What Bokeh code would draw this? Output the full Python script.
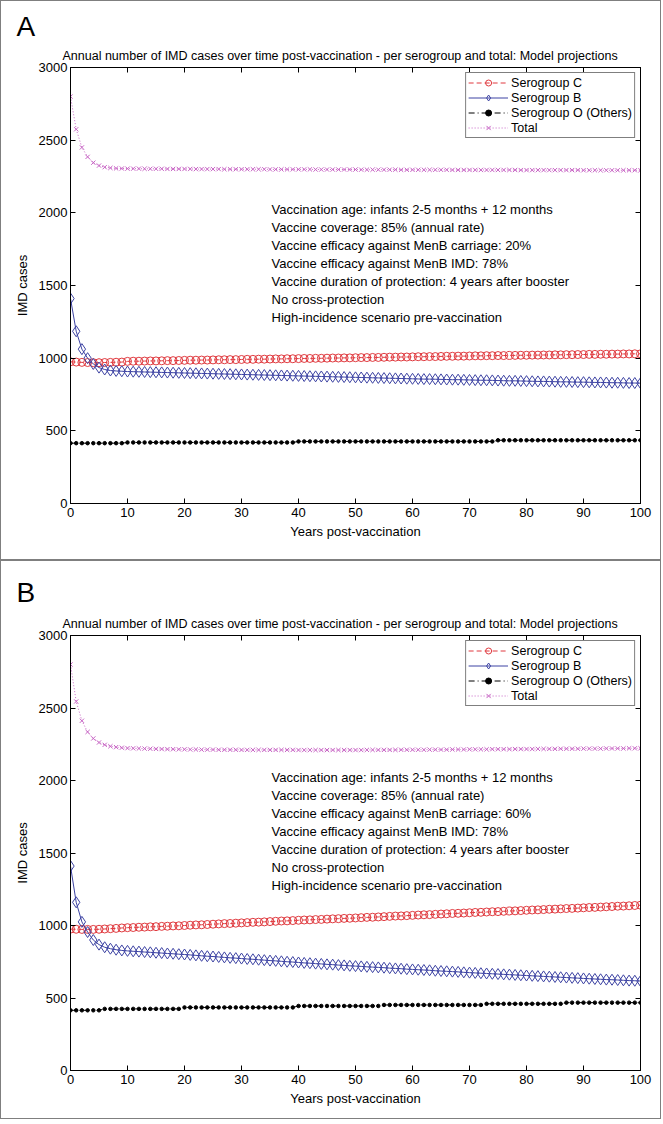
from bokeh.plotting import figure
from bokeh.models import Range1d, FixedTicker, LinearAxis, Legend, LegendItem, Label, Title
from bokeh.layouts import column
from bokeh.embed import file_html
from bokeh.resources import INLINE

years = list(range(0, 101))
x_ticks = [0, 10, 20, 30, 40, 50, 60, 70, 80, 90, 100]
y_ticks = [0, 500, 1000, 1500, 2000, 2500, 3000]

title_text = "Annual number of IMD cases over time post-vaccination - per serogroup and total: Model projections"
legend_labels = ["Serogroup C", "Serogroup B", "Serogroup O (Others)", "Total"]

# ---------------- Panel A ----------------
a_sero_c = [975, 973, 971, 970, 969, 969, 970, 971, 972, 973,
            978, 979, 979, 980, 981, 981, 982, 983, 983, 984,
            985, 986, 986, 987, 987, 988, 989, 989, 990, 990,
            991, 992, 992, 993, 993, 994, 995, 995, 996, 996,
            997, 998, 998, 999, 999, 1000, 1001, 1001, 1002, 1002,
            1003, 1004, 1004, 1005, 1005, 1006, 1007, 1007, 1008, 1008,
            1009, 1010, 1010, 1011, 1011, 1012, 1013, 1013, 1014, 1014,
            1015, 1016, 1016, 1017, 1017, 1018, 1018, 1019, 1019, 1020,
            1020, 1021, 1021, 1022, 1022, 1023, 1023, 1024, 1024, 1025,
            1025, 1026, 1026, 1027, 1027, 1028, 1028, 1029, 1029, 1030,
            1030]
a_sero_b = [1410, 1185, 1062, 1000, 960, 935, 922, 915, 912, 910,
            908, 907, 906, 905, 904, 903, 902, 901, 900, 899,
            898, 897, 896, 895, 894, 893, 892, 891, 890, 889,
            888, 887, 886, 885, 884, 883, 882, 881, 880, 879,
            878, 877, 876, 875, 874, 873, 872, 871, 870, 869,
            868, 867, 866, 865, 864, 863, 862, 861, 860, 859,
            858, 857, 856, 856, 855, 854, 853, 852, 852, 851,
            850, 849, 848, 848, 847, 846, 845, 844, 844, 843,
            842, 841, 840, 840, 839, 838, 837, 837, 836, 835,
            835, 834, 833, 833, 832, 831, 831, 830, 829, 829,
            828]
a_sero_o = [415, 415, 415, 415, 415, 415, 415, 415, 415, 415,
            420, 420, 420, 420, 420, 420, 420, 420, 420, 420,
            420, 420, 420, 420, 420, 420, 420, 420, 420, 420,
            420, 420, 420, 420, 420, 420, 420, 420, 420, 420,
            427, 427, 427, 427, 427, 427, 427, 427, 427, 427,
            427, 427, 427, 427, 427, 427, 427, 427, 427, 427,
            427, 427, 427, 427, 427, 427, 427, 427, 427, 427,
            427, 427, 427, 427, 427, 435, 435, 435, 435, 435,
            435, 435, 435, 435, 435, 435, 435, 435, 435, 435,
            435, 435, 435, 435, 435, 435, 435, 435, 435, 435,
            435]
a_total = [2800, 2575, 2450, 2385, 2345, 2325, 2314, 2309, 2306, 2305,
           2304, 2304, 2304, 2303, 2303, 2303, 2303, 2302, 2302, 2302,
           2302, 2302, 2301, 2301, 2301, 2301, 2301, 2300, 2300, 2300,
           2300, 2300, 2300, 2300, 2300, 2299, 2299, 2299, 2299, 2299,
           2299, 2299, 2299, 2298, 2298, 2298, 2298, 2298, 2298, 2298,
           2298, 2297, 2297, 2297, 2297, 2297, 2297, 2297, 2296, 2296,
           2296, 2296, 2296, 2296, 2296, 2296, 2296, 2295, 2295, 2295,
           2295, 2295, 2295, 2295, 2295, 2295, 2295, 2295, 2295, 2294,
           2294, 2294, 2294, 2294, 2294, 2294, 2294, 2294, 2294, 2294,
           2293, 2293, 2293, 2293, 2293, 2293, 2293, 2293, 2293, 2293,
           2293]
a_notes = ["Vaccination age: infants 2-5 months + 12 months",
           "Vaccine coverage: 85% (annual rate)",
           "Vaccine efficacy against MenB carriage: 20%",
           "Vaccine efficacy against MenB IMD: 78%",
           "Vaccine duration of protection: 4 years after booster",
           "No cross-protection",
           "High-incidence scenario pre-vaccination"]

# ---------------- Panel B ----------------
b_sero_c = [975, 974, 973, 973, 973, 974, 976, 978, 980, 983,
            985, 986, 988, 989, 991, 992, 994, 995, 997, 998,
            1000, 1002, 1004, 1005, 1007, 1009, 1011, 1013, 1014, 1016,
            1018, 1020, 1022, 1023, 1025, 1027, 1029, 1031, 1032, 1034,
            1036, 1038, 1039, 1041, 1042, 1044, 1046, 1047, 1049, 1050,
            1052, 1054, 1056, 1057, 1059, 1061, 1063, 1065, 1066, 1068,
            1070, 1072, 1074, 1075, 1077, 1079, 1081, 1083, 1084, 1086,
            1088, 1090, 1091, 1093, 1095, 1096, 1098, 1100, 1101, 1103,
            1105, 1107, 1108, 1110, 1112, 1113, 1115, 1117, 1118, 1120,
            1122, 1124, 1125, 1127, 1129, 1131, 1133, 1134, 1136, 1138,
            1140]
b_sero_b = [1410, 1160, 1025, 955, 900, 868, 850, 840, 833, 828,
            825, 822, 820, 817, 815, 812, 810, 807, 805, 802,
            800, 797, 794, 791, 788, 786, 783, 780, 777, 775,
            772, 769, 767, 764, 761, 758, 756, 753, 750, 748,
            745, 742, 740, 737, 735, 732, 730, 727, 725, 722,
            720, 718, 715, 713, 711, 709, 706, 704, 702, 699,
            697, 695, 693, 691, 688, 686, 684, 682, 680, 677,
            675, 673, 671, 669, 667, 665, 663, 661, 659, 657,
            655, 653, 651, 649, 647, 645, 643, 641, 639, 637,
            635, 633, 631, 629, 627, 626, 624, 622, 620, 619,
            617]
b_sero_o = [415, 415, 415, 415, 415, 415, 425, 425, 425, 425,
            425, 425, 425, 425, 425, 425, 425, 425, 425, 425,
            435, 435, 435, 435, 435, 435, 435, 435, 435, 435,
            435, 435, 435, 435, 435, 435, 435, 435, 435, 435,
            445, 445, 445, 445, 445, 445, 445, 445, 445, 445,
            445, 445, 445, 445, 445, 452, 452, 452, 452, 452,
            452, 452, 452, 452, 452, 452, 452, 452, 452, 452,
            452, 452, 452, 460, 460, 460, 460, 460, 460, 460,
            460, 460, 460, 460, 460, 460, 460, 468, 468, 468,
            468, 468, 468, 468, 468, 468, 468, 468, 468, 468,
            468]
b_total = [2800, 2545, 2412, 2335, 2290, 2262, 2246, 2236, 2230, 2226,
           2223, 2222, 2221, 2220, 2219, 2218, 2217, 2216, 2216, 2215,
           2215, 2214, 2214, 2213, 2213, 2213, 2212, 2212, 2212, 2212,
           2211, 2211, 2211, 2211, 2211, 2211, 2211, 2211, 2211, 2211,
           2210, 2210, 2210, 2210, 2210, 2210, 2210, 2210, 2210, 2210,
           2210, 2210, 2211, 2211, 2211, 2211, 2211, 2211, 2212, 2212,
           2212, 2212, 2212, 2213, 2213, 2213, 2213, 2214, 2214, 2214,
           2215, 2215, 2215, 2215, 2216, 2216, 2216, 2216, 2217, 2217,
           2217, 2217, 2218, 2218, 2218, 2218, 2219, 2219, 2219, 2219,
           2220, 2220, 2220, 2220, 2221, 2221, 2221, 2221, 2222, 2222,
           2222]
b_notes = ["Vaccination age: infants 2-5 months + 12 months",
           "Vaccine coverage: 85% (annual rate)",
           "Vaccine efficacy against MenB carriage: 60%",
           "Vaccine efficacy against MenB IMD: 78%",
           "Vaccine duration of protection: 4 years after booster",
           "No cross-protection",
           "High-incidence scenario pre-vaccination"]

RED = "#e0393e"
BLUE = "#3d43a3"
BLACK = "#000000"
MAGENTA = "#c764c4"
FONT = "Liberation Sans"

W = 661
LEFT = 69
PLOT_W = 570


def make_panel(letter, c, b, o, t, notes, height, top, bottom, letter_standoff):
    plot_h = height - top - bottom
    p = figure(width=W, height=height, min_border_left=LEFT, min_border_right=W - LEFT - PLOT_W,
               min_border_top=top, min_border_bottom=bottom,
               x_range=Range1d(0, 100), y_range=Range1d(0, 3000),
               output_backend="svg", toolbar_location=None)
    p.xgrid.visible = False
    p.ygrid.visible = False
    p.outline_line_color = "black"
    p.background_fill_color = "white"
    p.border_fill_color = "white"
    p.styles = {"border": "1px solid #7f7f7f"}

    for ax in [p.xaxis[0], p.yaxis[0]]:
        ax.major_tick_in = 5
        ax.major_tick_out = 0
        ax.minor_tick_in = 0
        ax.minor_tick_out = 0
        ax.minor_tick_line_color = None
        ax.axis_line_color = "black"
        ax.major_tick_line_color = "black"
        ax.major_label_text_font = FONT
        ax.major_label_text_font_size = "13px"
        ax.major_label_text_color = "black"
        ax.axis_label_text_font = FONT
        ax.axis_label_text_font_size = "13px"
        ax.axis_label_text_font_style = "normal"
        ax.axis_label_text_color = "black"
    p.xaxis[0].ticker = FixedTicker(ticks=x_ticks)
    p.yaxis[0].ticker = FixedTicker(ticks=y_ticks)
    p.xaxis[0].axis_label = "Years post-vaccination"
    p.yaxis[0].axis_label = "IMD cases"
    p.xaxis[0].major_label_standoff = 4
    p.xaxis[0].axis_label_standoff = 4
    p.yaxis[0].major_label_standoff = 3
    p.yaxis[0].axis_label_standoff = 6

    top_ax = LinearAxis(ticker=FixedTicker(ticks=x_ticks), major_tick_in=5, major_tick_out=0,
                        minor_tick_in=0, minor_tick_out=0, minor_tick_line_color=None,
                        major_label_text_color=None, major_label_text_font_size="1px",
                        major_label_standoff=0)
    right_ax = LinearAxis(ticker=FixedTicker(ticks=y_ticks), major_tick_in=5, major_tick_out=0,
                          minor_tick_in=0, minor_tick_out=0, minor_tick_line_color=None,
                          major_label_text_color=None, major_label_text_font_size="1px",
                          major_label_standoff=0)
    p.add_layout(top_ax, "above")
    p.add_layout(right_ax, "right")

    p.add_layout(Title(text=title_text, align="left", offset=-8, standoff=10,
                       text_font=FONT, text_font_size="12.5px", text_font_style="normal",
                       text_color="black"), "above")
    p.add_layout(Title(text=letter, align="left", offset=-54, standoff=letter_standoff,
                       text_font=FONT, text_font_size="28px", text_font_style="normal",
                       text_color="black"), "above")

    lc = p.line(years, c, line_color=RED, line_width=1, line_dash="5 3")
    sc = p.scatter(years, c, marker="circle", size=8, line_color=RED, fill_color=None, line_width=1)
    lb = p.line(years, b, line_color=BLUE, line_width=1)
    sb = p.scatter(years, b, marker="diamond", size=11, line_color=BLUE, fill_color=None, line_width=1)
    lo = p.line(years, o, line_color=BLACK, line_width=1, line_dash="6 3 1 3")
    so = p.scatter(years, o, marker="circle", size=3.5, line_color=BLACK, fill_color=BLACK)
    lt = p.line(years, t, line_color=MAGENTA, line_width=1, line_dash="1 2")
    st = p.scatter(years, t, marker="x", size=6, line_color=MAGENTA, line_width=1)

    legend = Legend(items=[
        LegendItem(label=legend_labels[0], renderers=[lc, sc]),
        LegendItem(label=legend_labels[1], renderers=[lb, sb]),
        LegendItem(label=legend_labels[2], renderers=[lo, so]),
        LegendItem(label=legend_labels[3], renderers=[lt, st]),
    ], location="top_right", margin=5, padding=2, spacing=0,
        glyph_width=40, glyph_height=15, label_height=15, label_standoff=3,
        label_text_font=FONT, label_text_font_size="12.5px", label_text_color="black",
        border_line_color="black", border_line_width=1, background_fill_color="white",
        background_fill_alpha=1.0)
    p.add_layout(legend)

    per_px = 3000.0 / plot_h
    x_per_px = 100.0 / PLOT_W
    for k, line in enumerate(notes):
        p.add_layout(Label(x=(271 - 70) * x_per_px, y=3000 - (142 + 18 * k) * per_px, text=line,
                           text_align="left", text_baseline="middle", text_font=FONT,
                           text_font_size="13px", text_color="black"))
    return p


pa = make_panel("A", a_sero_c, a_sero_b, a_sero_o, a_total, a_notes, 560, 66, 58, 0)
pb = make_panel("B", b_sero_c, b_sero_b, b_sero_o, b_total, b_notes, 559, 74, 50, 4)

layout = column(pa, pb, spacing=0)
open("out.html", "w").write(file_html(layout, INLINE))
